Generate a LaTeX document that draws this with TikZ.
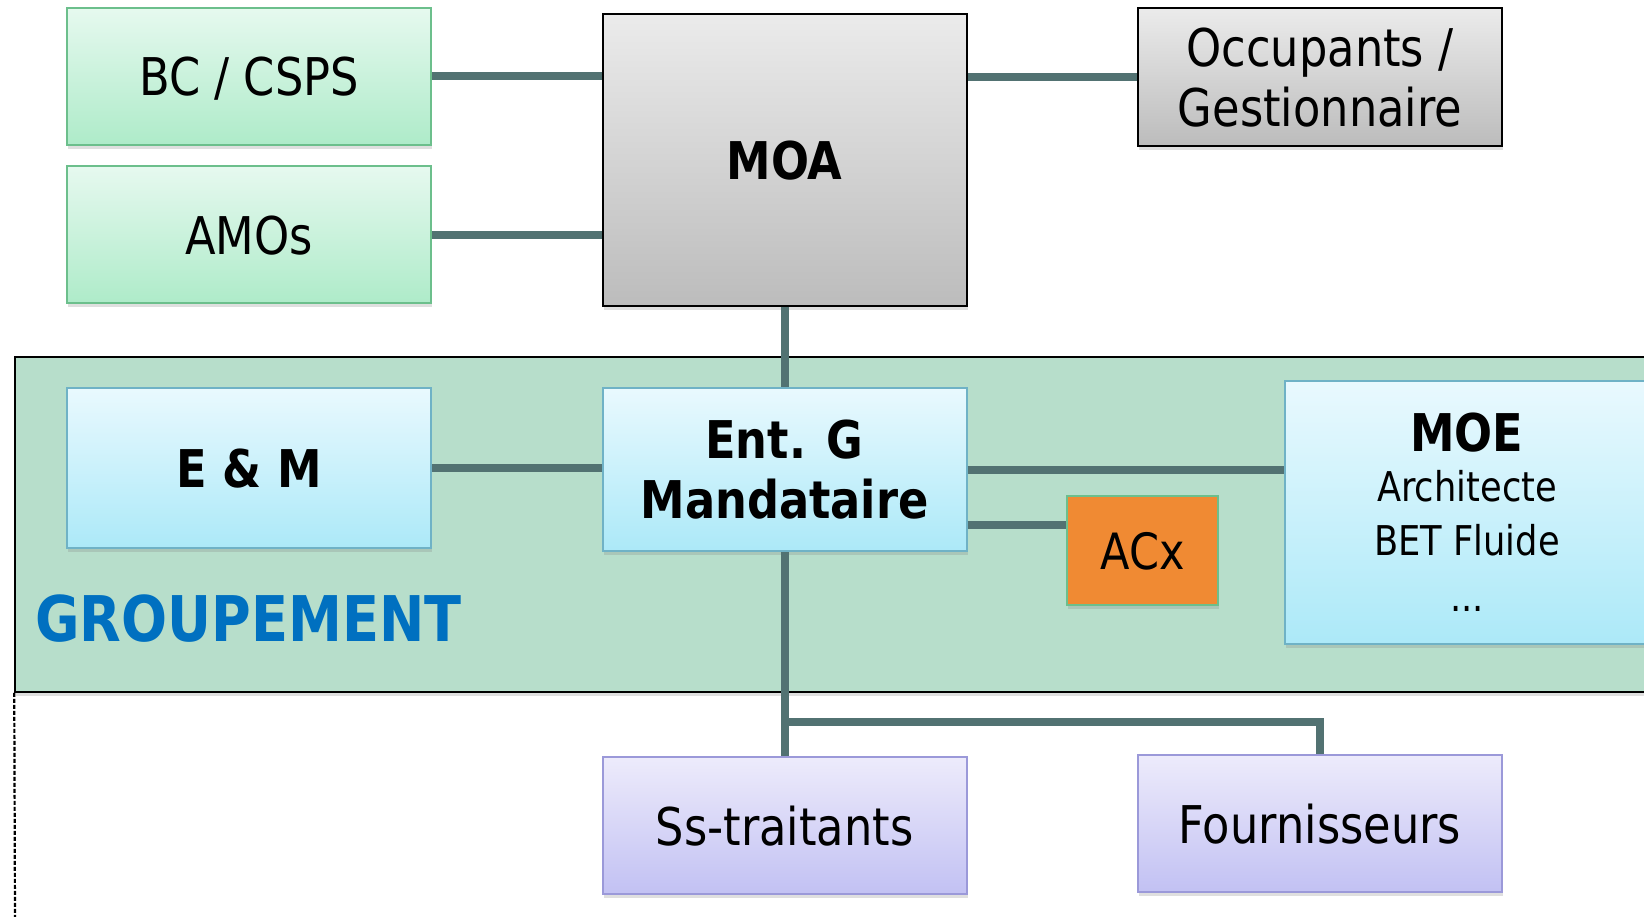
\documentclass[tikz,border=0pt]{standalone}
\usepackage{fontspec}
\setmainfont{DejaVu Sans}[FakeStretch=0.86]
\usepackage{tikz}
\usetikzlibrary{positioning,shadows}
\definecolor{linkcol}{HTML}{527272}
\definecolor{greentop}{HTML}{E6F9EF}
\definecolor{greenbot}{HTML}{AEEBC9}
\definecolor{greenedge}{HTML}{6CBF8C}
\definecolor{greytop}{HTML}{EBEBEB}
\definecolor{greybot}{HTML}{BCBCBC}
\definecolor{bluetop}{HTML}{E9F9FE}
\definecolor{bluebot}{HTML}{ACE9F8}
\definecolor{blueedge}{HTML}{6FB2C6}
\definecolor{violettop}{HTML}{EDEBFB}
\definecolor{violetbot}{HTML}{C2C1F3}
\definecolor{violetedge}{HTML}{9B99D9}
\definecolor{grpfill}{HTML}{B7DECB}
\definecolor{acxfill}{HTML}{F08A33}
\definecolor{grptext}{HTML}{0070C0}

\begin{document}
\begin{tikzpicture}
	[x=1pt, y=-1pt, inner sep=0pt,
	shade/.style	= {drop shadow={shadow xshift=1pt, shadow yshift=-4pt, opacity=.25}},
	box/.style		= {rectangle, draw, line width=2pt, minimum width=364pt, minimum height=137pt, align=center, text depth=0pt, shade, font=\fontsize{52}{60}\selectfont},
	greenbox/.style	= {box, draw=greenedge, top color=greentop, bottom color=greenbot},
	greybox/.style	= {box, draw=black, top color=greytop, bottom color=greybot},
	bluebox/.style	= {box, draw=blueedge, top color=bluetop, bottom color=bluebot},
	violetbox/.style	= {box, draw=violetedge, top color=violettop, bottom color=violetbot},
	acxbox/.style	= {rectangle, draw=greenedge, line width=2pt, fill=acxfill, minimum width=151pt, minimum height=109pt, text depth=0pt, shade, font=\fontsize{50}{60}\selectfont},
	grpbox/.style	= {rectangle, draw=black, line width=1.5pt, fill=grpfill, minimum width=1690pt, minimum height=335pt, shade},
	link/.style		= {draw=linkcol, line width=8pt}]
	
	\useasboundingbox (0, 0) rectangle (1644, 917);
	\clip (0, 0) rectangle (1644, 917);
	
	\node at (860, 524.5)		[grpbox]	(grp)	{};
	\node at (35, 619)		[anchor=west, text=grptext, font=\fontsize{63}{70}\selectfont\bfseries]	(grptxt)	{GROUPEMENT};
	\coordinate (dashend) at (15, 917);
	\draw [dash pattern=on 4pt off 2pt, line width=2.2pt] (grp.south west) -- (dashend);
	
	\node at (249, 76.5)		[greenbox]	(bc)	{BC / CSPS};
	\node at (249, 235)		[greenbox]	(amo)	{AMOs};
	\node at (784.5, 160)		[greybox, minimum height=292pt]	(moa)	{\textbf{MOA}};
	\node at (1320, 77)		[greybox, minimum height=138pt]	(occ)	{Occupants /\\Gestionnaire};
	\node at (249, 468)		[bluebox, minimum height=160pt]	(em)	{\textbf{E \& M}};
	\node at (784.5, 469.5)	[bluebox, minimum height=163pt]	(entg)	{\textbf{Ent. G}\\\textbf{Mandataire}};
	\node at (1142.5, 550.5)	[acxbox]	(acx)	{ACx};
	\node at (1467, 512.5)	[bluebox, minimum height=263pt]	(moe)	{\textbf{MOE}\\[-10pt]{\fontsize{41}{50}\selectfont Architecte}\\[-6pt]{\fontsize{41}{50}\selectfont BET Fluide}\\[-4pt]{\fontsize{41}{50}\selectfont ...}};
	\node at (784.5, 825.5)	[violetbox]	(sst)	{Ss-traitants};
	\node at (1320, 823.5)	[violetbox]	(four)	{Fournisseurs};
	\coordinate (split) at (784.5, 722);
	
	\draw [link] (bc.east) -- (bc.east -| moa.west);
	\draw [link] (amo.east) -- (amo.east -| moa.west);
	\draw [link] (occ.west) -- (occ.west -| moa.east);
	\draw [link] (moa.south) -- (entg.north);
	\draw [link] (em.east) -- (em.east -| entg.west);
	\draw [link] (entg.east) -- (entg.east -| moe.west);
	\draw [link] ([yshift=-55pt]entg.east) -- ([yshift=-55pt]entg.east -| acx.west);
	\draw [link] (entg.south) -- (sst.north);
	\draw [link] (split) -| (four.north);
	
	\end{tikzpicture}
\end{document}
